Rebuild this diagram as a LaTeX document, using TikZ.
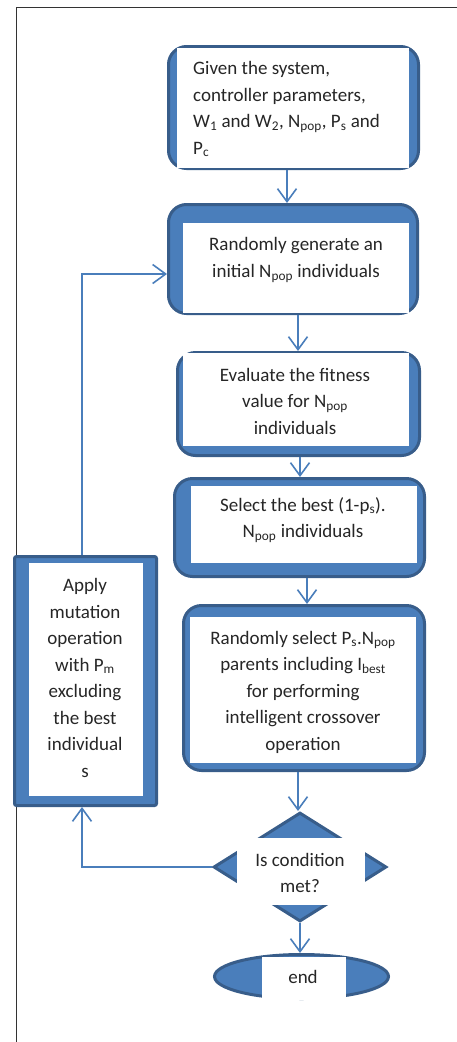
\documentclass[tikz,border=0pt]{standalone}
\usepackage{fontspec}
\setmainfont{Carlito}
\usetikzlibrary{shapes.geometric}
\usetikzlibrary{arrows.meta}

\definecolor{boxblue}{HTML}{4A7EBB}
\definecolor{rimblue}{HTML}{385D8A}
\definecolor{txtgray}{HTML}{262626}
\newcommand{\lowtxt}[1]{\textsubscript{#1}}

\tikzset{
  stagebox/.style={rectangle, rounded corners=18pt, draw=rimblue, fill=boxblue,
    line width=3pt, inner sep=0pt},
  whitepane/.style={rectangle, fill=white, inner sep=0pt},
  stagetext/.style={align=center, text=txtgray, inner sep=0pt,
    font=\fontsize{19}{26.5}\selectfont},
  flow/.style={draw=boxblue, line width=1.6pt,
    -{Straight Barb[length=13pt,width=19pt]}}
}

\begin{document}
\begin{tikzpicture}
\useasboundingbox (0pt,0pt) rectangle (457pt,-1042pt);
\draw[black!80, line width=1pt] (16pt,-1042pt) -- (16pt,-7pt) -- (457pt,-7pt);

% main column
\node[stagebox, minimum width=250pt, minimum height=122pt] (given) at (293.5pt,-107.5pt) {};
\node[whitepane, minimum width=232pt, minimum height=120pt] (givenPane) at (293pt,-108pt) {};
\node[stagetext, align=left, anchor=west] (givenTxt) at (193pt,-109pt)
     {Given the system,\\controller parameters,\\W\lowtxt{1} and W\lowtxt{2}, N\lowtxt{pop}, P\lowtxt{s} and\\P\lowtxt{c}};

\node[stagebox, minimum width=249pt, minimum height=109pt] (gen) at (293pt,-259pt) {};
\node[whitepane, minimum width=226pt, minimum height=90pt] (genPane) at (296pt,-268pt) {};
\node[stagetext] (genTxt) at (296pt,-260pt)
     {Randomly generate an\\initial N\lowtxt{pop} individuals};

\node[stagebox, minimum width=242pt, minimum height=103pt] (eval) at (298.5pt,-404pt) {};
\node[whitepane, minimum width=226pt, minimum height=93pt] (evalPane) at (296pt,-399.5pt) {};
\node[stagetext] (evalTxt) at (295pt,-401pt)
     {Evaluate the fitness\\value for N\lowtxt{pop}\\individuals};

\node[stagebox, minimum width=250pt, minimum height=98pt] (sel) at (299.5pt,-527.5pt) {};
\node[whitepane, minimum width=226pt, minimum height=77pt] (selPane) at (304pt,-524.5pt) {};
\node[stagetext] (selTxt) at (303pt,-520pt)
     {Select the best (1-p\lowtxt{s}).\\N\lowtxt{pop} individuals};

\node[stagebox, minimum width=241pt, minimum height=165pt] (cross) at (304pt,-688pt) {};
\node[whitepane, minimum width=226pt, minimum height=146pt] (crossPane) at (303pt,-690pt) {};
\node[stagetext] (crossTxt) at (303pt,-692pt)
     {Randomly select P\lowtxt{s}.N\lowtxt{pop}\\parents including I\lowtxt{best}\\for performing\\intelligent crossover\\operation};

\node[diamond, draw=rimblue, fill=boxblue, line width=3pt, inner sep=0pt,
      minimum width=173pt, minimum height=109pt] (cond) at (300pt,-867pt) {};
\node[whitepane, minimum width=128pt, minimum height=67pt] (condPane) at (301pt,-871.5pt) {};
\node[stagetext] (condTxt) at (300pt,-873pt) {Is condition\\met?};

\node[ellipse, draw=rimblue, fill=boxblue, line width=3pt, inner sep=0pt,
      minimum width=174pt, minimum height=44pt] (end) at (301.5pt,-976.5pt) {};
\node[whitepane, minimum width=84pt, minimum height=43pt] (endPane) at (304pt,-978pt) {};
\node[stagetext] (endTxt) at (303pt,-977pt) {end};

% mutation branch
\node[stagebox, rounded corners=2pt, minimum width=142pt, minimum height=249pt] (mut) at (85.5pt,-681pt) {};
\node[whitepane, minimum width=114pt, minimum height=233pt] (mutPane) at (86pt,-679.5pt) {};
\node[stagetext] (mutTxt) at (85pt,-678pt)
     {Apply\\mutation\\operation\\with P\lowtxt{m}\\excluding\\the best\\individual\\s};

% connectors
\draw[flow] ([xshift=-6.5pt]given.south) -- ([xshift=-6.5pt]given.south |- gen.north);
\draw[flow] ([xshift=5pt]gen.south) -- ([xshift=5pt]gen.south |- eval.north);
\draw[flow] ([xshift=1.5pt]eval.south) -- ([xshift=1.5pt]eval.south |- sel.north);
\draw[flow] ([xshift=7.5pt]sel.south) -- ([xshift=7.5pt]sel.south |- cross.north);
\draw[flow] ([xshift=-6pt]cross.south) -- ([xshift=-6pt]cross.south |- cond.north);
\draw[flow] (cond.south) -- (cond.south |- end.north);
\draw[flow] (cond.west) -| ([xshift=-3.5pt]mut.south);
\draw[flow] ([xshift=-3.5pt]mut.north) |- ([yshift=-15pt]gen.west);

\end{tikzpicture}
\end{document}
